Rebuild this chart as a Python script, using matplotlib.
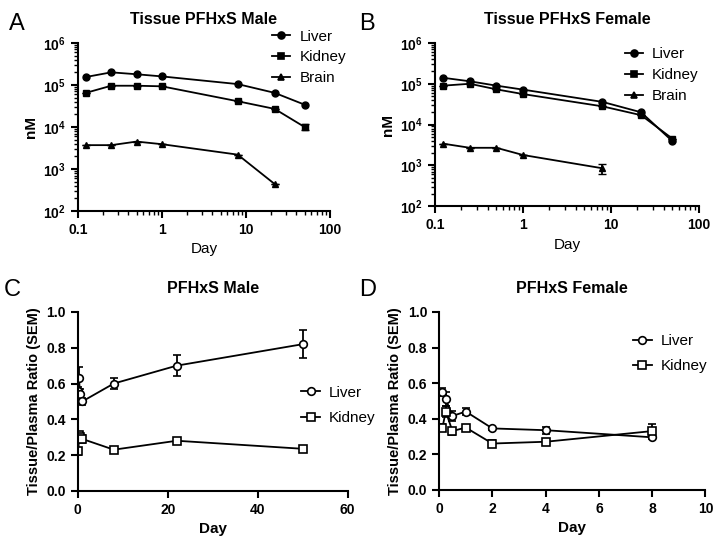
import numpy as np
import matplotlib
matplotlib.use('Agg')
import matplotlib.pyplot as plt
from matplotlib.lines import Line2D
from matplotlib.ticker import LogLocator, FixedLocator, FuncFormatter, NullFormatter

plt.rcParams['font.family'] = ['Liberation Sans', 'DejaVu Sans']
plt.rcParams['mathtext.fontset'] = 'custom'
plt.rcParams['mathtext.bf'] = 'Liberation Sans:bold'
plt.rcParams['mathtext.rm'] = 'Liberation Sans'

# tissue concentration (nM)
days_tis = [0.125, 0.25, 0.5, 1, 8, 22, 50]
male_liver = [1.55e5, 2.0e5, 1.8e5, 1.6e5, 1.05e5, 6.5e4, 3.4e4]
male_kidney = [6.5e4, 9.6e4, 9.6e4, 9.3e4, 4.1e4, 2.7e4, 1.0e4]
male_kidney_err = [0, 0, 0, 0, 0, 0, 1.5e3]
days_brain_m = [0.125, 0.25, 0.5, 1, 8, 22]
male_brain = [3.7e3, 3.7e3, 4.5e3, 3.9e3, 2.2e3, 440]

fem_liver = [1.4e5, 1.15e5, 9.0e4, 7.2e4, 3.6e4, 2.0e4, 3.9e3]
fem_kidney = [9.0e4, 1.0e5, 7.3e4, 5.6e4, 2.8e4, 1.7e4, 4.5e3]
days_brain_f = [0.125, 0.25, 0.5, 1, 8]
fem_brain = [3.4e3, 2.7e3, 2.7e3, 1.8e3, 850]
fem_brain_err = [0, 0, 0, 0, 220]

# tissue/plasma ratio
days_m = [0.125, 0.25, 0.5, 1, 8, 22, 50]
ratio_m_liver = [0.56, 0.63, 0.54, 0.50, 0.60, 0.70, 0.82]
ratio_m_liver_err = [0.02, 0.06, 0.03, 0.02, 0.03, 0.06, 0.08]
ratio_m_kidney = [0.22, 0.31, 0.30, 0.29, 0.23, 0.28, 0.235]
ratio_m_kidney_err = [0.02, 0.02, 0.02, 0.02, 0.01, 0.01, 0.01]

days_f = [0.125, 0.25, 0.5, 1, 2, 4, 8]
ratio_f_liver = [0.55, 0.51, 0.415, 0.44, 0.345, 0.335, 0.295]
ratio_f_liver_err = [0.02, 0.04, 0.03, 0.02, 0.01, 0.02, 0.01]
ratio_f_kidney = [0.35, 0.44, 0.33, 0.35, 0.26, 0.27, 0.33]
ratio_f_kidney_err = [0.02, 0.03, 0.02, 0.01, 0.02, 0.01, 0.04]


def style(ax):
    ax.spines['top'].set_visible(False)
    ax.spines['right'].set_visible(False)
    ax.spines['left'].set_linewidth(1.5)
    ax.spines['bottom'].set_linewidth(1.5)
    ax.tick_params(which='major', width=1.5, length=5, labelsize=10)
    ax.tick_params(which='minor', width=1.0, length=3)
    for lab in ax.get_xticklabels() + ax.get_yticklabels():
        lab.set_fontweight('bold')


def pow_fmt(v, pos):
    return r'$\mathbf{10^{%d}}$' % int(round(np.log10(v)))


def handles(markers, face):
    return [Line2D([], [], color='black', marker=m, mfc=face, ms=ms, lw=1.3, mew=1.2)
            for m, ms in markers]


def log_panel(ax, liver, kidney, kerr, bdays, brain, berr, title, legpos):
    ax.plot(days_tis, liver, '-o', color='black', ms=5, lw=1.3)
    ax.errorbar(days_tis, kidney, yerr=kerr, fmt='-s', color='black', ms=5, lw=1.3, capsize=3)
    ax.errorbar(bdays, brain, yerr=berr, fmt='-^', color='black', ms=5, lw=1.3, capsize=3)
    ax.set_xscale('log')
    ax.set_yscale('log')
    ax.set_xlim(0.1, 100)
    ax.set_ylim(1e2, 1e6)
    ax.yaxis.set_major_locator(FixedLocator([1e2, 1e3, 1e4, 1e5, 1e6]))
    ax.yaxis.set_major_formatter(FuncFormatter(pow_fmt))
    ax.yaxis.set_minor_locator(LogLocator(base=10, subs=np.arange(2, 10)))
    ax.yaxis.set_minor_formatter(NullFormatter())
    ax.xaxis.set_major_locator(FixedLocator([0.1, 1, 10, 100]))
    ax.set_xticklabels(['0.1', '1', '10', '100'])
    ax.xaxis.set_minor_locator(LogLocator(base=10, subs=np.arange(2, 10)))
    ax.xaxis.set_minor_formatter(NullFormatter())
    ax.set_xlabel('Day', fontsize=11)
    ax.set_ylabel('nM', fontsize=11, fontweight='bold')
    ax.set_title(title, fontsize=11.5, fontweight='bold', pad=14)
    ax.legend(handles([('o', 5), ('s', 5), ('^', 5)], 'black'),
              ['Liver', 'Kidney', 'Brain'], loc='upper left', bbox_to_anchor=legpos,
              frameon=False, fontsize=11, handlelength=1.2, handletextpad=0.6,
              labelspacing=0.45, borderpad=0)
    style(ax)


def ratio_panel(ax, days, liver, lerr, kidney, kerr, xmax, xticks, title, legpos):
    ax.errorbar(days, liver, yerr=lerr, fmt='-o', color='black', mfc='white', ms=5.5, lw=1.3,
                capsize=3, mew=1.2)
    ax.errorbar(days, kidney, yerr=kerr, fmt='-s', color='black', mfc='white', ms=5.5, lw=1.3,
                capsize=3, mew=1.2)
    ax.set_xlim(0, xmax)
    ax.set_ylim(0, 1.0)
    ax.set_xticks(xticks)
    ax.set_yticks([0.0, 0.2, 0.4, 0.6, 0.8, 1.0])
    ax.set_yticklabels(['0.0', '0.2', '0.4', '0.6', '0.8', '1.0'])
    ax.set_xlabel('Day', fontsize=11, fontweight='bold')
    ax.set_ylabel('Tissue/Plasma Ratio (SEM)', fontsize=10.5, fontweight='bold')
    ax.set_title(title, fontsize=11.5, fontweight='bold', pad=14)
    ax.legend(handles([('o', 5.5), ('s', 5.5)], 'white'), ['Liver', 'Kidney'],
              loc='upper left', bbox_to_anchor=legpos, frameon=False, fontsize=11,
              handlelength=1.2, handletextpad=0.6, labelspacing=0.75, borderpad=0)
    style(ax)


fig = plt.figure(figsize=(7.14, 5.37), dpi=100)
axA = fig.add_axes([0.109, 0.607, 0.353, 0.313])
axB = fig.add_axes([0.609, 0.616, 0.370, 0.304])
axC = fig.add_axes([0.109, 0.086, 0.378, 0.333])
axD = fig.add_axes([0.615, 0.088, 0.373, 0.331])

log_panel(axA, male_liver, male_kidney, male_kidney_err, days_brain_m, male_brain,
          [0] * len(male_brain), 'Tissue PFHxS Male', (0.74, 1.125))
log_panel(axB, fem_liver, fem_kidney, [0] * len(fem_kidney), days_brain_f, fem_brain,
          fem_brain_err, 'Tissue PFHxS Female', (0.69, 1.02))
ratio_panel(axC, days_m, ratio_m_liver, ratio_m_liver_err, ratio_m_kidney, ratio_m_kidney_err,
            60, [0, 20, 40, 60], 'PFHxS Male', (0.80, 0.63))
ratio_panel(axD, days_f, ratio_f_liver, ratio_f_liver_err, ratio_f_kidney, ratio_f_kidney_err,
            10, [0, 2, 4, 6, 8, 10], 'PFHxS Female', (0.70, 0.92))

for lbl, x, y in [('A', 0.012, 0.975), ('B', 0.503, 0.975), ('C', 0.005, 0.48), ('D', 0.503, 0.48)]:
    fig.text(x, y, lbl, fontsize=17, va='top', ha='left')

fig.savefig('out.png', dpi=100)
